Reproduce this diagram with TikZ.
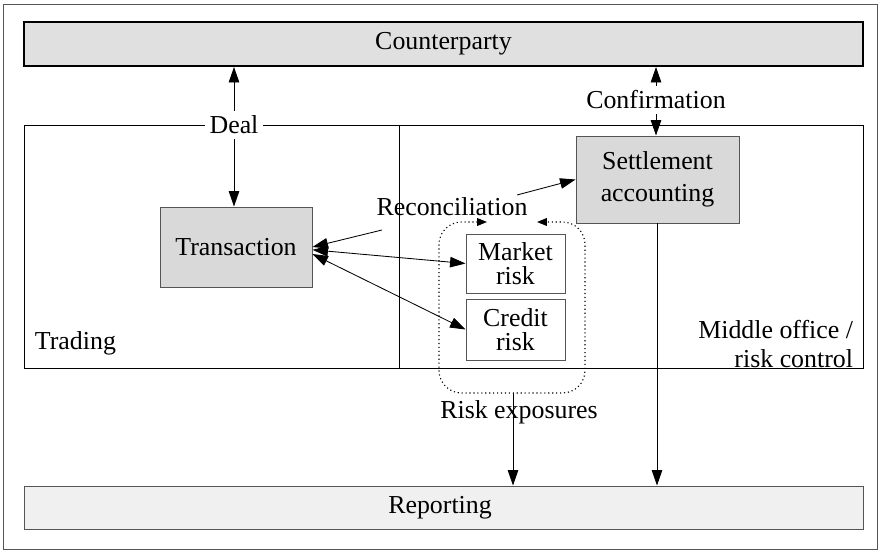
\documentclass[tikz,border=0pt]{standalone}
\usepackage{fontspec}
\setmainfont{Liberation Serif}
\usetikzlibrary{arrows.meta,fit}
\definecolor{cpfill}{HTML}{E0E0E0}
\definecolor{boxfill}{HTML}{D9D9D9}
\definecolor{repfill}{HTML}{F0F0F0}
\definecolor{edgegray}{HTML}{555555}
\tikzset{
  every node/.style={font=\fontsize{18.4}{21}\selectfont},
  area/.style={inner sep=0pt},
  graybox/.style={area, draw=edgegray, fill=boxfill, line width=0.7pt},
  whitebox/.style={area, draw=edgegray, fill=white, line width=0.7pt},
  txt/.style={align=center, inner sep=0pt},
  lbl/.style={fill=white, inner sep=3.5pt},
  tip/.style={-{Triangle[length=11pt,width=7.5pt]}},
  twotip/.style={{Triangle[length=11pt,width=7.5pt]}-{Triangle[length=11pt,width=7.5pt]}},
  conn/.style={line width=0.6pt, black},
}
\begin{document}
\begin{tikzpicture}[x=0.025cm,y=-0.025cm]
\useasboundingbox (0,0) rectangle (879,551);
% outer frame
\draw[line width=0.7pt, edgegray] (3.5,4.5) rectangle (877.5,549.5);
% region box
\node[area, fit={(24,125) (863,368)}, draw=black, line width=0.6pt] (region) {};
\coordinate (divtop) at (399,125);
\coordinate (divbot) at (399,368);
\draw[line width=0.6pt] (divtop) -- (divbot);
% counterparty
\node[area, fit={(24,22) (863,66)}, draw=black, fill=cpfill, line width=1.4pt] (cp) {};
\node[txt] (cpt) at (cp.center) {Counterparty};
% reporting
\node[area, fit={(24,486) (863,529)}, draw=edgegray, fill=repfill, line width=0.7pt] (rep) {};
\node[txt] (rept) at (440,507.5) {Reporting};
% boxes
\node[graybox, fit={(160,207) (312,287)}] (tr) {};
\node[txt] (trt) at (tr.center) {Transaction};
\node[graybox, fit={(576,136) (739,223)}] (st) {};
\node[txt, font=\fontsize{18.4}{22.5}\selectfont] (stt) at (st.center) {Settlement\\accounting};
\node[whitebox, fit={(466,234) (565,293)}] (mr) {};
\node[txt, font=\fontsize{18.4}{17.5}\selectfont] (mrt) at (mr.center) {Market\\risk};
\node[whitebox, fit={(466,299) (565,360)}] (crr) {};
\node[txt, font=\fontsize{18.4}{17.5}\selectfont] (crt) at (crr.center) {Credit\\risk};
% labels
\node[anchor=west] (trading) at (30,343) {Trading};
\node[anchor=east, align=right, font=\fontsize{18.4}{20}\selectfont] (mo) at (858,344) {Middle office /\\risk control};
\node (rec) at (452,207) {Reconciliation};
\node (riskexp) at (519,412) {Risk exposures};
% dotted risk exposure box
\coordinate (dl) at (487,222);
\coordinate (dr) at (537,222);
\draw[dotted, line width=0.8pt, rounded corners=16,
  {Triangle[length=7pt,width=5.5pt]}-{Triangle[length=7pt,width=5.5pt]}]
  (dl) -- (439,222) -- (439,393) -- (585,393) -- (585,222) -- (dr);
\coordinate (dbot) at (513,393);
% connectors
\draw[conn, twotip] (cp.south -| 234,0) -- (tr.north -| 234,0);
\draw[conn, twotip] (cp.south -| 656,0) -- (st.north -| 656,0);
\coordinate (recl) at (382,230);
\coordinate (recr) at (517,195);
\draw[conn, tip] (recl) -- (tr.east);
\draw[conn, tip] (recr) -- (st.west);
\draw[conn, twotip] ([yshift=-2]tr.east) -- (mr.west);
\draw[conn, twotip] ([yshift=-5]tr.east) -- (crr.west);
\draw[conn, tip] (dbot) -- (rep.north -| dbot);
\draw[conn, tip] (st.south -| 657,0) -- (rep.north -| 657,0);
% labels over lines
\node[lbl] (deal) at (234,125) {Deal};
\node[lbl] (conf) at (656,100) {Confirmation};
\end{tikzpicture}
\end{document}
